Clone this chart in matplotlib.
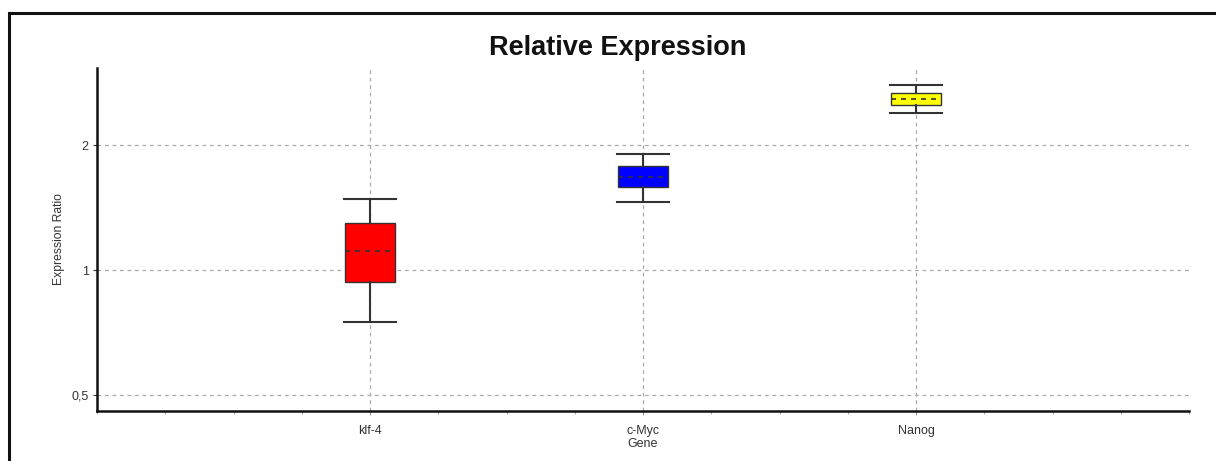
import matplotlib.pyplot as plt
from matplotlib.patches import Rectangle
from matplotlib.ticker import FixedLocator, FuncFormatter, MultipleLocator

plt.rcParams['font.family'] = ['Liberation Sans', 'DejaVu Sans']

genes = ["klf-4", "c-Myc", "Nanog"]
box_colors = ["#ff0000", "#0000ff", "#ffff00"]
# expression ratio summary per gene
whisker_low = [0.751, 1.46, 2.392]
q1 = [0.937, 1.587, 2.50]
median = [1.115, 1.68, 2.581]
q3 = [1.30, 1.783, 2.673]
whisker_high = [1.485, 1.903, 2.794]
y_ticks = [0.5, 1, 2]

fig = plt.figure(figsize=(12.16, 4.61), dpi=100)
ax = fig.add_axes([0.0798, 0.1085, 0.8980, 0.744])

stats = []
for g, lo, a, m, b, hi in zip(genes, whisker_low, q1, median, q3, whisker_high):
    stats.append(dict(label=g, whislo=lo, q1=a, med=m, q3=b, whishi=hi, fliers=[]))

positions = list(range(1, len(genes) + 1))
bp = ax.bxp(stats, positions=positions, widths=0.184, capwidths=0.188,
            patch_artist=True, showfliers=False,
            boxprops=dict(edgecolor="#333333", linewidth=1.0),
            whiskerprops=dict(color="#333333", linewidth=1.5),
            capprops=dict(color="#333333", linewidth=1.5),
            medianprops=dict(color="#333333", linewidth=1.2, linestyle=(0, (3, 3))),
            zorder=3)
for patch, c in zip(bp["boxes"], box_colors):
    patch.set_facecolor(c)

ax.set_yscale("log", base=2)
ax.set_ylim(0.458, 3.07)
ax.set_xlim(0, 4)
ax.yaxis.set_major_locator(FixedLocator(y_ticks))
ax.yaxis.set_minor_locator(FixedLocator([]))
ax.yaxis.set_major_formatter(FuncFormatter(lambda v, p: f"{v:g}".replace(".", ",")))
ax.set_xticks(positions)
ax.set_xticklabels(genes)
ax.xaxis.set_minor_locator(MultipleLocator(0.25))

ax.grid(True, which="major", color="#aaaaaa", linestyle=(0, (3, 3)), linewidth=0.9, zorder=0)
ax.set_axisbelow(True)

for s in ["top", "right"]:
    ax.spines[s].set_visible(False)
for s in ["left", "bottom"]:
    ax.spines[s].set_linewidth(1.8)
    ax.spines[s].set_color("#111111")

ax.tick_params(axis="both", which="major", labelsize=9, colors="#333333", length=3, width=0.8)
ax.tick_params(axis="y", which="major", pad=3)
ax.tick_params(axis="x", which="major", pad=7, color="#999999")
ax.tick_params(axis="x", which="minor", length=2, width=0.6, colors="#999999")

ax.set_ylabel("Expression Ratio", fontsize=8.7, color="#333333", labelpad=5)
ax.set_xlabel("Gene", fontsize=9, color="#333333", labelpad=1)
ax.set_title("Relative Expression", fontsize=19.5, fontweight="bold", color="#111111",
             x=0.477, pad=9)

# outer frame around the figure
fig.patches.append(Rectangle((9 / 1216, -0.2), 2.0, 1.2 - 13 / 461, transform=fig.transFigure,
                             fill=False, edgecolor="#111111", linewidth=2.2))

fig.savefig("out.png", dpi=100)
